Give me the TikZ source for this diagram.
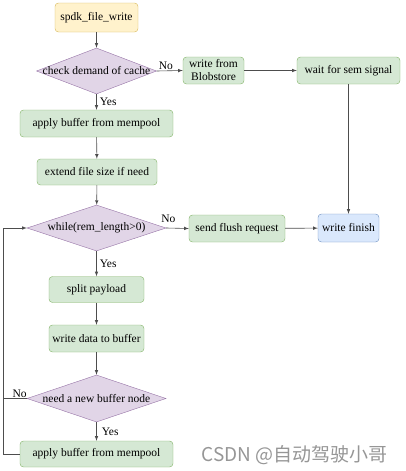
\documentclass[tikz,border=0pt]{standalone}
\usepackage{fontspec}
\setmainfont{Liberation Serif}
\newfontfamily\cjk{Noto Sans CJK SC}
\usepackage{tikz}
\usetikzlibrary{shapes.geometric}

\definecolor{grnfill}{HTML}{D5E8D4}
\definecolor{grnline}{HTML}{82B366}
\definecolor{purfill}{HTML}{E1D5E7}
\definecolor{purline}{HTML}{9673A6}
\definecolor{yelfill}{HTML}{FFF2CC}
\definecolor{yelline}{HTML}{D6B656}
\definecolor{blufill}{HTML}{DAE8FC}
\definecolor{bluline}{HTML}{6C8EBF}
\definecolor{flowline}{HTML}{4D4D4D}
\definecolor{wmark}{HTML}{969696}

\begin{document}
\begin{tikzpicture}[x=1pt,y=-1pt,
    txt/.style={font=\fontsize{11.5}{13}\selectfont, text=black, inner sep=1pt, align=center},
    procbox/.style={txt, draw=grnline, fill=grnfill, rounded corners=3.5pt, minimum height=27pt},
    decision/.style={diamond, draw=purline, fill=purfill, inner sep=0pt},
    flow/.style={-latex, draw=flowline, line width=0.6pt},
    lbl/.style={txt}]
    \useasboundingbox (0,0) rectangle (405,471);

    \node[procbox, draw=yelline, fill=yelfill, minimum width=83pt, minimum height=29pt] (start) at (96.5,17.5) {spdk\_file\_write};

    \node[decision, minimum width=120pt, minimum height=46pt] (chk) at (96.5,71) {};
    \node[txt] (chktxt) at (chk) {check demand of cache};

    \node[procbox, minimum width=61pt] (blob) at (213.5,70.5) {write from\\Blobstore};
    \node[procbox, minimum width=103pt] (sem) at (348.5,70.5) {wait for sem signal};

    \node[procbox, minimum width=153pt] (apply1) at (96.5,123.5) {apply buffer from mempool};
    \node[procbox, minimum width=120pt, minimum height=26pt] (extend) at (97,172) {extend file size if need};

    \node[decision, minimum width=139pt, minimum height=46pt] (loop) at (96.5,228) {};
    \node[txt] (looptxt) at (loop) {while(rem\_length>0)};

    \node[procbox, minimum width=96pt] (flush) at (237,228.5) {send flush request};
    \node[procbox, draw=bluline, fill=blufill, minimum width=61pt, minimum height=28pt] (finish) at (348.5,228) {write finish};

    \node[procbox, minimum width=95pt, minimum height=26pt] (split) at (96.5,289.5) {split payload};
    \node[procbox, minimum width=95pt] (wdata) at (96.5,338.5) {write data to buffer};

    \node[decision, minimum width=139pt, minimum height=47pt] (need) at (96.5,398.5) {};
    \node[txt] (needtxt) at (need) {need a new buffer node};

    \node[procbox, minimum width=153pt, minimum height=26pt] (apply2) at (96.5,454) {apply buffer from mempool};

    % back edge on the left
    \coordinate (lbot) at (3,454);
    \coordinate (ltop) at (3,228);

    \draw[flow] (start) -- (chk);
    \draw[flow] (chk.east) -- (blob.west) node[lbl, pos=0.35, above] {No};
    \draw[flow] (blob) -- (sem);
    \draw[flow] (chk.south) -- (apply1) node[lbl, midway, right=2pt] {Yes};
    \draw[flow] (apply1) -- (extend);
    \draw[flow] (extend) -- (loop);
    \draw[flow] (loop.east) -- (flush.west) node[lbl, pos=0.1, above=4pt] {No};
    \draw[flow] (flush) -- (finish);
    \draw[flow] (sem) -- (finish);
    \draw[flow] (loop.south) -- (split) node[lbl, midway, right=2pt] {Yes};
    \draw[flow] (split) -- (wdata);
    \draw[flow] (wdata) -- (need);
    \draw[flow] (need.south) -- (apply2) node[lbl, midway, right=4pt] {Yes};
    \draw[flow] (apply2.west) -- (lbot) -- (ltop) -- (loop.west);
    \draw[flow, -] (need.west) -- (need.west -| lbot) node[lbl, pos=0.3, above] {No};

    \node[font=\cjk\fontsize{19}{19}\selectfont, text=wmark, anchor=east] (wmk) at (391,455) {CSDN @自动驾驶小哥};
\end{tikzpicture}
\end{document}
